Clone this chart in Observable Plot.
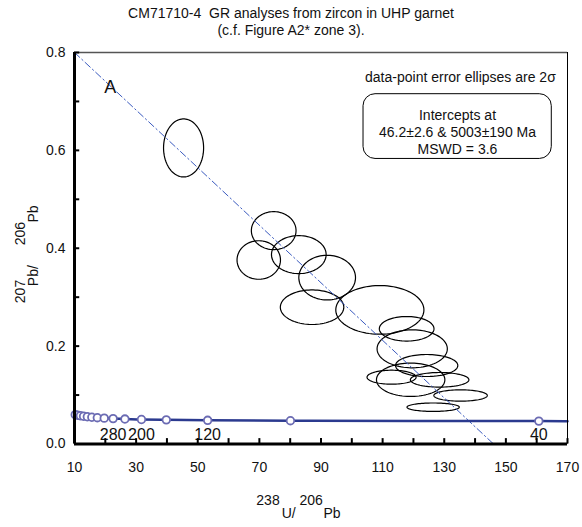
<!DOCTYPE html>
<html><head><meta charset="utf-8">
<script src="https://cdn.jsdelivr.net/npm/d3@7"></script>
<script src="https://cdn.jsdelivr.net/npm/@observablehq/plot@0.6"></script>
<style>
body{margin:0;background:#fff;font-family:"Liberation Sans",Arial,sans-serif}
#title{width:582px;text-align:center;font-size:14px;line-height:17px;padding-top:5px;height:34px;color:#111}
</style></head><body>
<div id="title"><div>CM71710-4&nbsp; GR analyses from zircon in UHP garnet</div><div>(c.f. Figure A2* zone 3).</div></div>
<div id="chart"></div>
<script>
// Error ellipses (2σ): centre and semi-axes in data units
const ellX  = [45.4, 74.65, 69.8, 82.8, 92.0, 87.1, 109.1, 117.8, 119.6, 124.3, 119.1, 112.9, 128.5, 135.3, 126.4];
const ellY  = [0.605, 0.436, 0.376, 0.387, 0.340, 0.2795, 0.274, 0.2354, 0.1945, 0.1604, 0.1312, 0.1365, 0.1312, 0.0991, 0.0752];
const ellRX = [6.5, 7.25, 7.05, 8.87, 9.2, 10.3, 14.3, 8.87, 11.4, 10.1, 11.1, 7.96, 9.5, 8.67, 8.5];
const ellRY = [0.0593, 0.0388, 0.0394, 0.0388, 0.0456, 0.0353, 0.0497, 0.0251, 0.0388, 0.0225, 0.0341, 0.0143, 0.0149, 0.0116, 0.0086];

// Concordia age markers (Ma) and their positions
const markerAge = [600, 560, 520, 480, 440, 400, 360, 320, 280, 240, 200, 160, 120, 80, 40];
const markerX   = [10.25, 11.02, 11.90, 12.94, 14.16, 15.62, 17.41, 19.65, 22.53, 26.36, 31.73, 39.79, 53.22, 80.08, 160.7];
const markerY   = [0.0599, 0.0588, 0.0577, 0.0567, 0.0557, 0.0547, 0.0537, 0.0528, 0.0519, 0.0510, 0.0501, 0.0493, 0.0484, 0.0476, 0.0468];
const labelledAges = [280, 200, 120, 40];
// Concordia curve end points at plot edges
const curveX = [10, ...markerX, 170];
const curveY = [0.0603, ...markerY, 0.0466];

// Discordia (regression) line end points
const discX = [10, 146];
const discY = [0.8, 0];

// Axis ticks
const xMajor = [10, 30, 50, 70, 90, 110, 130, 150, 170];
const xMinor = d3.range(10, 171, 10);
const yMajor = [0, 0.2, 0.4, 0.6, 0.8];
const yMinor = [0, 0.1, 0.2, 0.3, 0.4, 0.5, 0.6, 0.7, 0.8];

const boxLines = ["Intercepts at", "46.2±2.6 & 5003±190 Ma", "MSWD = 3.6"];
const boxLineY = [0.671, 0.636, 0.601];

// ellipse outlines
const ellPts = [];
ellX.forEach((cx, i) => {
  for (let k = 0; k <= 90; k++) {
    const a = (k / 90) * 2 * Math.PI;
    ellPts.push({id: i, x: cx + ellRX[i] * Math.cos(a), y: ellY[i] + ellRY[i] * Math.sin(a)});
  }
});
const curve = curveX.map((x, i) => ({x, y: curveY[i]}));
const markers = markerX.map((x, i) => ({x, y: markerY[i], age: markerAge[i]}));
const labels = markers.filter(d => labelledAges.includes(d.age));
const disc = discX.map((x, i) => ({x, y: discY[i]}));

const font = "Liberation Sans, Arial, sans-serif";

const chart = Plot.plot({
  width: 582,
  height: 488,
  marginTop: 13,
  marginBottom: 83.5,
  marginLeft: 74,
  marginRight: 15,
  style: {fontFamily: font, color: "#111", background: "white"},
  x: {domain: [10, 170], label: null},
  y: {domain: [0, 0.8], label: null},
  marks: [
    Plot.axisX(xMajor, {tickSize: 0, tickPadding: 18, fontSize: 14, label: null}),
    Plot.axisY(yMajor, {tickSize: 0, tickPadding: 9, fontSize: 14, label: null, tickFormat: d => d.toFixed(1)}),
    // error ellipses
    Plot.line(ellPts, {x: "x", y: "y", z: "id", stroke: "black", strokeWidth: 1.2, curve: "linear"}),
    // discordia
    Plot.line(disc, {x: "x", y: "y", stroke: "#3b5bbf", strokeWidth: 1, strokeDasharray: "7,3,1.5,3"}),
    // concordia
    Plot.line(curve, {x: "x", y: "y", stroke: "#2b3a8f", strokeWidth: 2.5, curve: "monotone-x"}),
    Plot.dot(markers, {x: "x", y: "y", r: 3.8, stroke: "#6b6bb3", strokeWidth: 1.8, fill: "white"}),
    Plot.text(labels, {x: "x", y: 0.018, text: d => String(d.age), fontSize: 16, fill: "#111"}),
    // frame
    Plot.ruleY([0.8], {stroke: "#555", strokeWidth: 1.5}),
    Plot.ruleX([170], {stroke: "black", strokeWidth: 1}),
    Plot.ruleX([10], {stroke: "black", strokeWidth: 3}),
    Plot.ruleY([0], {stroke: "black", strokeWidth: 3}),
    // inward ticks
    Plot.ruleX(xMinor, {y1: 0, y2: 0.011, stroke: "black", strokeWidth: 2}),
    Plot.ruleY(yMinor, {x1: 10, x2: 11.7, stroke: "black", strokeWidth: 2}),
    // annotations
    Plot.text(["A"], {x: 21.6, y: 0.729, fontSize: 18, fill: "#111"}),
    Plot.text(["data-point error ellipses are 2σ"], {x: 166.2, y: 0.749, textAnchor: "end", fontSize: 14, fill: "#111"}),
    Plot.rect([0], {x1: 103.8, x2: 164.9, y1: 0.5825, y2: 0.7148, rx: 12, fill: "white", stroke: "black", strokeWidth: 1}),
    Plot.text(boxLines, {x: 134.3, y: (d, i) => boxLineY[i], text: d => d, fontSize: 14, fill: "#111"}),
    // y axis title (with superscripts)
    Plot.text(["207", "Pb/", "206", "Pb"], {frameAnchor: "left", y: (d, i) => [0.3116, 0.344, 0.430, 0.470][i], text: d => d, rotate: -90, dx: -54, textAnchor: "middle", fontSize: 14, fill: "#111",
      filter: (d, i) => i % 2 === 0}),
    Plot.text(["207", "Pb/", "206", "Pb"], {frameAnchor: "left", y: (d, i) => [0.3116, 0.344, 0.430, 0.470][i], text: d => d, rotate: -90, dx: -41, textAnchor: "middle", fontSize: 14, fill: "#111",
      filter: (d, i) => i % 2 === 1}),
    // x axis title (with superscripts)
    Plot.text(["238", "206"], {frameAnchor: "bottom", x: (d, i) => [72.8, 86.8][i], text: d => d, dy: 57, lineAnchor: "middle", fontSize: 14, fill: "#111"}),
    Plot.text(["U/", "Pb"], {frameAnchor: "bottom", x: (d, i) => [79.5, 93.6][i], text: d => d, dy: 70, lineAnchor: "middle", fontSize: 14, fill: "#111"})
  ]
});
document.getElementById("chart").appendChild(chart);
</script>
</body></html>
